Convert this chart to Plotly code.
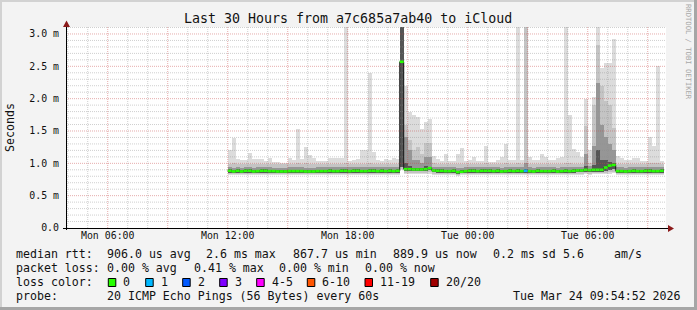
import plotly.graph_objects as go
import pandas as pd

# ---------------- data ----------------
START = "2026-03-23 12:00:00"          # first 12-minute bin
STEP_MIN = 12
VIEW_START = "2026-03-23 03:54:52"
VIEW_END = "2026-03-24 09:54:52"

median_ms = [
    0.885, 0.875, 0.885, 0.875, 0.885, 0.885, 0.875, 0.880, 0.885, 0.885,
    0.880, 0.880, 0.875, 0.875, 0.875, 0.880, 0.880, 0.880, 0.880, 0.875,
    0.875, 0.875, 0.880, 0.880, 0.880, 0.885, 0.880, 0.880, 0.885, 0.885,
    0.880, 0.885, 0.885, 0.880, 0.880, 0.885, 0.885, 0.880, 0.885, 0.880,
    0.885, 0.880, 0.885, 2.570, 0.910, 0.910, 0.905, 0.905, 0.905, 0.910,
    0.925, 0.890, 0.885, 0.885, 0.880, 0.880, 0.885, 0.865, 0.870, 0.880,
    0.885, 0.885, 0.880, 0.885, 0.885, 0.885, 0.880, 0.885, 0.875, 0.880,
    0.885, 0.880, 0.885, 0.880, 0.885, 0.880, 0.875, 0.885, 0.880, 0.880,
    0.880, 0.885, 0.875, 0.880, 0.885, 0.880, 0.885, 0.890, 0.890, 0.900,
    0.895, 0.900, 0.900, 0.900, 0.935, 0.965, 0.975, 0.880, 0.880, 0.875,
    0.880, 0.885, 0.880, 0.880, 0.885, 0.885, 0.880, 0.880, 0.885,
]
loss_pings = [
    0, 0, 0, 0, 0, 0, 0, 0, 0, 0,
    0, 0, 0, 0, 0, 0, 0, 0, 0, 0,
    0, 0, 0, 0, 0, 0, 0, 0, 0, 0,
    0, 0, 0, 0, 0, 0, 0, 0, 0, 0,
    0, 0, 0, 0, 0, 0, 0, 0, 0, 0,
    0, 0, 0, 0, 0, 0, 0, 0, 0, 0,
    0, 0, 0, 0, 0, 0, 0, 0, 0, 0,
    0, 0, 0, 0, 1, 0, 0, 0, 0, 0,
    0, 0, 0, 0, 0, 0, 0, 0, 0, 0,
    0, 0, 0, 0, 0, 0, 0, 0, 0, 0,
    0, 0, 0, 0, 0, 0, 0, 0, 0,
]
smoke_max = [
    1.20, 1.39, 1.07, 1.05, 1.05, 1.16, 1.06, 1.06, 1.06, 1.04,
    1.09, 1.02, 1.02, 1.00, 1.00, 1.09, 1.05, 1.53, 1.06, 1.26,
    1.13, 1.09, 1.03, 1.04, 1.04, 1.08, 1.08, 1.08, 1.08, 3.20,
    1.04, 1.05, 1.06, 1.20, 1.20, 2.40, 1.18, 1.05, 1.04, 1.06,
    1.05, 1.08, 1.06, 3.20, 2.20, 1.80, 1.75, 1.71, 1.53, 1.64,
    1.69, 1.11, 1.06, 1.03, 1.14, 1.03, 1.03, 1.15, 1.23, 1.03,
    1.05, 1.10, 1.03, 1.03, 1.27, 1.02, 1.02, 1.05, 1.10, 1.30,
    1.05, 1.05, 3.20, 1.05, 3.20, 1.10, 1.05, 1.05, 1.15, 1.10,
    1.05, 1.05, 1.08, 1.10, 3.20, 1.75, 1.22, 1.18, 1.10, 1.99,
    1.20, 2.02, 3.20, 2.48, 2.55, 2.55, 2.93, 1.11, 1.09, 1.05,
    1.05, 1.09, 1.09, 1.04, 1.04, 1.40, 1.27, 2.50, 1.03,
]
smoke_hi2 = [
    0.995, 1.000, 0.990, 0.990, 0.990, 0.995, 0.990, 0.990, 0.990, 0.990,
    0.990, 0.985, 0.985, 0.985, 0.985, 0.990, 0.990, 1.010, 0.990, 1.000,
    0.995, 0.990, 0.990, 0.990, 0.990, 0.990, 0.990, 0.990, 0.990, 1.010,
    0.990, 0.990, 0.990, 0.995, 0.995, 1.010, 0.995, 0.990, 0.990, 0.990,
    0.990, 0.990, 0.990, 3.200, 1.600, 1.360, 1.200, 1.250, 1.150, 1.310,
    1.310, 1.000, 0.990, 0.990, 0.995, 0.990, 0.990, 0.985, 0.985, 0.990,
    0.990, 0.990, 0.990, 0.990, 1.000, 0.990, 0.990, 0.990, 0.990, 1.000,
    0.990, 0.990, 1.010, 0.990, 3.200, 0.990, 0.990, 0.990, 0.995, 0.990,
    0.990, 0.990, 0.990, 0.990, 1.010, 1.010, 0.995, 0.995, 0.990, 1.570,
    1.000, 1.900, 2.830, 2.200, 1.960, 1.900, 1.550, 0.995, 0.990, 0.990,
    0.990, 0.990, 0.990, 0.990, 0.990, 1.010, 1.000, 1.010, 0.990,
]
smoke_hi1 = [
    0.940, 0.935, 0.940, 0.935, 0.940, 0.940, 0.935, 0.940, 0.940, 0.940,
    0.940, 0.935, 0.935, 0.935, 0.935, 0.940, 0.940, 0.945, 0.940, 0.935,
    0.935, 0.935, 0.940, 0.940, 0.940, 0.940, 0.940, 0.940, 0.940, 0.945,
    0.940, 0.940, 0.940, 0.940, 0.940, 0.945, 0.940, 0.940, 0.940, 0.940,
    0.940, 0.940, 0.940, 3.200, 1.410, 1.200, 1.050, 1.050, 1.000, 1.100,
    1.100, 0.945, 0.940, 0.940, 0.940, 0.940, 0.940, 0.925, 0.930, 0.940,
    0.940, 0.940, 0.940, 0.940, 0.945, 0.940, 0.940, 0.940, 0.935, 0.945,
    0.940, 0.940, 0.945, 0.940, 1.000, 0.940, 0.935, 0.940, 0.940, 0.940,
    0.940, 0.940, 0.935, 0.940, 0.945, 0.945, 0.940, 0.945, 0.945, 1.150,
    0.960, 1.270, 2.240, 1.600, 1.400, 1.300, 1.200, 0.940, 0.940, 0.935,
    0.940, 0.940, 0.940, 0.940, 0.940, 0.945, 0.940, 0.945, 0.940,
]
smoke_hi0 = [
    0.905, 0.895, 0.905, 0.895, 0.905, 0.905, 0.895, 0.900, 0.905, 0.905,
    0.900, 0.900, 0.895, 0.895, 0.895, 0.900, 0.900, 0.900, 0.900, 0.895,
    0.895, 0.895, 0.900, 0.900, 0.900, 0.905, 0.900, 0.900, 0.905, 0.905,
    0.900, 0.905, 0.905, 0.900, 0.900, 0.905, 0.905, 0.900, 0.905, 0.900,
    0.905, 0.900, 0.905, 3.200, 1.000, 0.960, 0.930, 0.930, 0.930, 0.960,
    0.950, 0.910, 0.905, 0.905, 0.900, 0.900, 0.905, 0.885, 0.890, 0.900,
    0.905, 0.905, 0.900, 0.905, 0.905, 0.905, 0.900, 0.905, 0.895, 0.900,
    0.905, 0.900, 0.905, 0.900, 0.905, 0.900, 0.895, 0.905, 0.900, 0.900,
    0.900, 0.905, 0.895, 0.900, 0.905, 0.900, 0.905, 0.910, 0.910, 0.960,
    0.915, 0.980, 1.200, 1.050, 1.050, 1.020, 1.000, 0.900, 0.900, 0.895,
    0.900, 0.905, 0.900, 0.900, 0.905, 0.905, 0.900, 0.900, 0.905,
]
smoke_dark_lo = [
    0.855, 0.850, 0.855, 0.850, 0.855, 0.855, 0.850, 0.855, 0.855, 0.855,
    0.855, 0.855, 0.850, 0.850, 0.850, 0.855, 0.855, 0.855, 0.855, 0.850,
    0.850, 0.850, 0.855, 0.855, 0.855, 0.855, 0.855, 0.855, 0.855, 0.855,
    0.855, 0.855, 0.855, 0.855, 0.855, 0.855, 0.855, 0.855, 0.855, 0.855,
    0.855, 0.855, 0.855, 0.940, 0.880, 0.880, 0.880, 0.880, 0.880, 0.880,
    0.890, 0.860, 0.855, 0.855, 0.855, 0.855, 0.855, 0.840, 0.845, 0.855,
    0.855, 0.855, 0.855, 0.855, 0.855, 0.855, 0.855, 0.855, 0.850, 0.855,
    0.855, 0.855, 0.855, 0.855, 0.855, 0.855, 0.850, 0.855, 0.855, 0.855,
    0.855, 0.855, 0.850, 0.855, 0.855, 0.855, 0.855, 0.860, 0.860, 0.870,
    0.865, 0.870, 0.870, 0.870, 0.880, 0.900, 0.910, 0.855, 0.855, 0.850,
    0.855, 0.855, 0.855, 0.855, 0.855, 0.855, 0.855, 0.855, 0.855,
]
smoke_lo = [
    0.835, 0.830, 0.835, 0.830, 0.835, 0.835, 0.830, 0.835, 0.835, 0.835,
    0.835, 0.835, 0.830, 0.830, 0.830, 0.835, 0.835, 0.835, 0.835, 0.830,
    0.830, 0.830, 0.835, 0.835, 0.835, 0.835, 0.835, 0.835, 0.835, 0.835,
    0.835, 0.835, 0.835, 0.835, 0.835, 0.835, 0.835, 0.835, 0.835, 0.835,
    0.835, 0.835, 0.835, 0.920, 0.850, 0.850, 0.850, 0.850, 0.850, 0.850,
    0.860, 0.840, 0.835, 0.835, 0.835, 0.835, 0.835, 0.825, 0.830, 0.835,
    0.835, 0.835, 0.835, 0.835, 0.835, 0.835, 0.835, 0.835, 0.830, 0.835,
    0.835, 0.835, 0.835, 0.835, 0.835, 0.835, 0.830, 0.835, 0.835, 0.835,
    0.835, 0.835, 0.830, 0.835, 0.835, 0.835, 0.835, 0.840, 0.840, 0.845,
    0.840, 0.845, 0.845, 0.845, 0.850, 0.860, 0.870, 0.835, 0.835, 0.830,
    0.835, 0.835, 0.835, 0.835, 0.835, 0.835, 0.835, 0.835, 0.835,
]
smoke_min = [
    0.820, 0.815, 0.820, 0.815, 0.820, 0.820, 0.815, 0.820, 0.820, 0.820,
    0.820, 0.820, 0.815, 0.815, 0.815, 0.820, 0.820, 0.820, 0.820, 0.815,
    0.815, 0.815, 0.820, 0.820, 0.820, 0.820, 0.820, 0.820, 0.820, 0.820,
    0.820, 0.820, 0.820, 0.820, 0.820, 0.820, 0.820, 0.820, 0.820, 0.820,
    0.820, 0.820, 0.820, 0.900, 0.830, 0.830, 0.830, 0.830, 0.830, 0.830,
    0.830, 0.820, 0.820, 0.820, 0.820, 0.820, 0.820, 0.810, 0.815, 0.820,
    0.820, 0.820, 0.820, 0.820, 0.820, 0.820, 0.820, 0.820, 0.815, 0.820,
    0.820, 0.820, 0.820, 0.820, 0.820, 0.820, 0.815, 0.820, 0.820, 0.820,
    0.820, 0.820, 0.815, 0.820, 0.820, 0.820, 0.820, 0.825, 0.825, 0.830,
    0.825, 0.830, 0.830, 0.830, 0.835, 0.840, 0.850, 0.820, 0.820, 0.815,
    0.820, 0.820, 0.820, 0.820, 0.820, 0.820, 0.820, 0.820, 0.820,
]

y_tick_vals = [0.0, 0.5, 1.0, 1.5, 2.0, 2.5, 3.0]
y_tick_text = ["0.0", "0.5 m", "1.0 m", "1.5 m", "2.0 m", "2.5 m", "3.0 m"]
x_tick_vals = ["2026-03-23 06:00", "2026-03-23 09:00", "2026-03-23 12:00",
               "2026-03-23 15:00", "2026-03-23 18:00", "2026-03-23 21:00",
               "2026-03-24 00:00", "2026-03-24 03:00", "2026-03-24 06:00",
               "2026-03-24 09:00"]
x_tick_text = ["Mon 06:00", "", "Mon 12:00", "", "Mon 18:00", "",
               "Tue 00:00", "", "Tue 06:00", ""]

loss_labels = ["0", "1", "2", "3", "4-5", "6-10", "11-19", "20/20"]
loss_colors = ["#26ff00", "#00b8ff", "#0059ff", "#7e00ff",
               "#ff00ff", "#ff5500", "#ff0000", "#a10000"]
loss_bins = [0, 1, 2, 3, 5, 10, 19, 20]   # upper bound of each colour class

title_text = "Last 30 Hours from a7c685a7ab40 to iCloud"
legend_rows = [
    [(16, "median rtt:"), (107.3, "906.0 us avg"), (206, "2.6 ms max"),
     (293.3, "867.7 us min"), (393.3, "889.9 us now"), (493.3, "0.2 ms sd"),
     (562.7, "5.6"), (614.3, "am/s")],
    [(16, "packet loss:"), (107.3, "0.00 % avg"), (194, "0.41 % max"),
     (279.3, "0.00 % min"), (365, "0.00 % now")],
    [(16, "loss color:")],
    [(16, "probe:"), (107.3, "20 ICMP Echo Pings (56 Bytes) every 60s"),
     (513.3, "Tue Mar 24 09:54:52 2026")],
]
legend_row_y = [254.3, 268.3, 282.3, 296.3]
loss_box_x = [108.3, 145.7, 182.7, 219.7, 256.7, 307.3, 365.0, 430.7]

# ---------------- geometry ----------------
W, H = 697, 310
PL, PR, PT, PB = 66, 666, 27, 228
Y_MAX = 3.108
MONO = "DejaVu Sans Mono"


def fx(p):
    return (p - PL) / (PR - PL)


def fy(p):
    return (PB - p) / (PB - PT)


n = len(median_ms)
t0 = pd.Timestamp(START)
step = pd.Timedelta(minutes=STEP_MIN)
left_edges = [t0 + step * i for i in range(n + 1)]
centers = [(t0 + step * i + step / 2).strftime("%Y-%m-%d %H:%M:%S") for i in range(n)]
bar_w = STEP_MIN * 60 * 1000

fig = go.Figure()

bands = [
    (smoke_min, smoke_max, "#dcdcdc"),
    (smoke_lo, smoke_hi2, "#c4c4c4"),
    (smoke_dark_lo, smoke_hi1, "#969696"),
    (smoke_dark_lo, smoke_hi0, "#555555"),
]
for lo, hi, col in bands:
    fig.add_trace(go.Bar(
        x=centers, base=lo, y=[h - l for l, h in zip(lo, hi)],
        width=bar_w, marker=dict(color=col, line=dict(width=0)),
        hoverinfo="skip", showlegend=False))

# dark step outline of the median
xs = [e.strftime("%Y-%m-%d %H:%M:%S") for e in left_edges]
fig.add_trace(go.Scatter(x=xs, y=median_ms + [median_ms[-1]], mode="lines",
                         line=dict(color="#1a1a1a", width=1, shape="hv"),
                         hoverinfo="skip", showlegend=False))


def loss_class(k):
    for ci, ub in enumerate(loss_bins):
        if k <= ub:
            return ci
    return len(loss_bins) - 1


for ci, col in enumerate(loss_colors):
    sx, sy = [], []
    for i in range(n):
        if loss_class(loss_pings[i]) == ci:
            sx += [xs[i], xs[i + 1], None]
            sy += [median_ms[i], median_ms[i], None]
    if sx:
        fig.add_trace(go.Scatter(x=sx, y=sy, mode="lines",
                                 line=dict(color=col, width=2.6),
                                 hoverinfo="skip", showlegend=False))

shapes = []
# grid (drawn above the smoke, like rrdtool)
hour = pd.Timestamp("2026-03-23 04:00:00")
end = pd.Timestamp(VIEW_END)
while hour <= end:
    major = hour.hour % 3 == 0
    shapes.append(dict(type="line", xref="x", yref="paper",
                       x0=hour.strftime("%Y-%m-%d %H:%M:%S"),
                       x1=hour.strftime("%Y-%m-%d %H:%M:%S"), y0=0, y1=1,
                       line=dict(color="rgba(200,70,70,0.45)" if major else "rgba(140,140,140,0.42)",
                                 width=1, dash="1px,1px"), layer="above"))
    hour += pd.Timedelta(hours=1)
for k in range(1, 32):
    v = k / 10
    major = k % 5 == 0
    shapes.append(dict(type="line", xref="paper", yref="y", x0=0, x1=1, y0=v, y1=v,
                       line=dict(color="rgba(200,70,70,0.45)" if major else "rgba(140,140,140,0.42)",
                                 width=1, dash="1px,1px"), layer="above"))

# axes with arrows
AX = "#000000"
ARROW = "#8b1a1a"
shapes.append(dict(type="line", xref="paper", yref="paper",
                   x0=fx(66.5), x1=fx(66.5), y0=fy(230), y1=fy(24),
                   line=dict(color=AX, width=1), layer="above"))
shapes.append(dict(type="line", xref="paper", yref="paper",
                   x0=fx(63), x1=fx(670), y0=fy(228.5), y1=fy(228.5),
                   line=dict(color=AX, width=1), layer="above"))
shapes.append(dict(type="path", xref="paper", yref="paper",
                   path=f"M {fx(66.5)} {fy(20.5)} L {fx(63)} {fy(27)} L {fx(70)} {fy(27)} Z",
                   fillcolor=ARROW, line=dict(width=0), layer="above"))
shapes.append(dict(type="path", xref="paper", yref="paper",
                   path=f"M {fx(674)} {fy(228.5)} L {fx(668)} {fy(225)} L {fx(668)} {fy(232)} Z",
                   fillcolor=ARROW, line=dict(width=0), layer="above"))

# frame shading of the whole image
shapes.append(dict(type="rect", xref="paper", yref="paper", x0=fx(0), x1=fx(697),
                   y0=fy(0), y1=fy(2), fillcolor="#d2d2d2", line=dict(width=0)))
shapes.append(dict(type="rect", xref="paper", yref="paper", x0=fx(0), x1=fx(2),
                   y0=fy(0), y1=fy(310), fillcolor="#d2d2d2", line=dict(width=0)))
shapes.append(dict(type="rect", xref="paper", yref="paper", x0=fx(0), x1=fx(697),
                   y0=fy(307), y1=fy(310), fillcolor="#a6a6a6", line=dict(width=0)))
shapes.append(dict(type="rect", xref="paper", yref="paper", x0=fx(694), x1=fx(697),
                   y0=fy(0), y1=fy(310), fillcolor="#a6a6a6", line=dict(width=0)))

# loss colour boxes
for bx, col in zip(loss_box_x, loss_colors):
    shapes.append(dict(type="rect", xref="paper", yref="paper",
                       x0=fx(bx), x1=fx(bx + 7.5), y0=fy(278.5), y1=fy(286.5),
                       fillcolor=col, line=dict(color="#000000", width=1)))

annotations = []


def text(px, py, s, size=11.6, color="#111111", xanchor="left", angle=0):
    annotations.append(dict(x=fx(px), y=fy(py), xref="paper", yref="paper",
                            text=s, showarrow=False, xanchor=xanchor, yanchor="middle",
                            textangle=angle, borderpad=0, borderwidth=0,
                            font=dict(family=MONO, size=size, color=color)))


text(348, 18, title_text, size=13.3, xanchor="center")
text(10, 128, "Seconds", size=11.6, xanchor="center", angle=-90)
text(689, 52, "RRDTOOL / TOBI OETIKER", size=7.2, color="#a8a8a8", xanchor="center", angle=90)
for row, ry in zip(legend_rows, legend_row_y):
    for px_, s in row:
        text(px_, ry, s)
for bx, lab in zip(loss_box_x, loss_labels):
    text(bx + 15, legend_row_y[2], lab)

fig.update_layout(
    width=W, height=H,
    margin=dict(l=PL, r=W - PR, t=PT, b=H - PB, autoexpand=False),
    paper_bgcolor="#f3f3f3", plot_bgcolor="#ffffff",
    barmode="overlay", bargap=0, showlegend=False,
    shapes=shapes, annotations=annotations,
    xaxis=dict(type="date", range=[VIEW_START, VIEW_END], tickmode="array",
               tickvals=x_tick_vals, ticktext=x_tick_text, showgrid=False,
               zeroline=False, showline=False, ticks="",
               tickfont=dict(family=MONO, size=9.9, color="#111111")),
    yaxis=dict(range=[0, Y_MAX], tickmode="array", tickvals=y_tick_vals,
               ticktext=y_tick_text, showgrid=False, zeroline=False, showline=False,
               ticks="", ticklabelstandoff=6,
               tickfont=dict(family=MONO, size=9.9, color="#111111")),
)

fig.write_html("out.html")
